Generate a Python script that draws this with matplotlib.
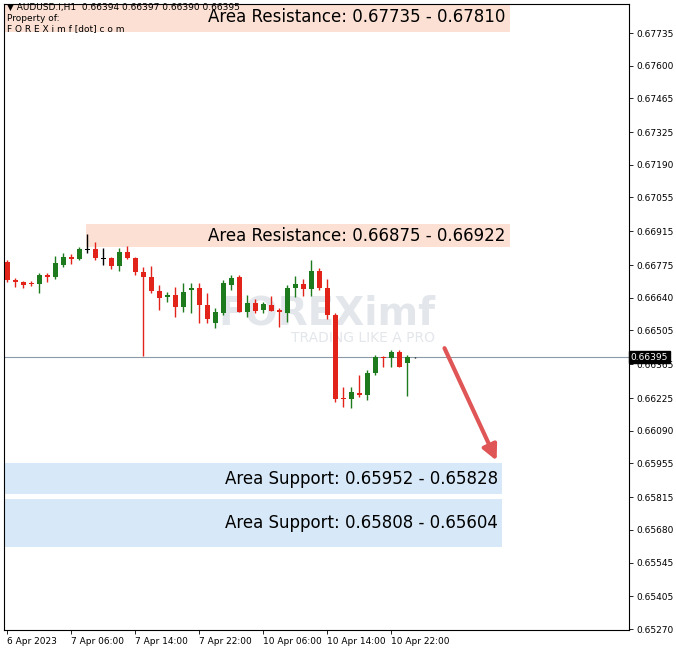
import matplotlib.pyplot as plt
from matplotlib.patches import Rectangle

# AUDUSD H1 candles
opens = [0.66789, 0.66714, 0.66704, 0.66700, 0.66696, 0.66734, 0.66725, 0.66776, 0.66810, 0.66799,
         0.66838, 0.66841, 0.66803, 0.66803, 0.66772, 0.66828, 0.66803, 0.66748, 0.66725, 0.66669,
         0.66642, 0.66652, 0.66603, 0.66672, 0.66679, 0.66610, 0.66537, 0.66576, 0.66693, 0.66727,
         0.66582, 0.66620, 0.66589, 0.66610, 0.66589, 0.66576, 0.66679, 0.66697, 0.66675, 0.66752,
         0.66679, 0.66569, 0.66224, 0.66220, 0.66247, 0.66237, 0.66327, 0.66396, 0.66389, 0.66417,
         0.66369, 0.66394]
highs = [0.66796, 0.66721, 0.66709, 0.66709, 0.66741, 0.66744, 0.66813, 0.66824, 0.66820, 0.66852,
         0.66904, 0.66872, 0.66845, 0.66807, 0.66845, 0.66854, 0.66807, 0.66769, 0.66772, 0.66693,
         0.66665, 0.66686, 0.66700, 0.66700, 0.66700, 0.66658, 0.66596, 0.66714, 0.66734, 0.66734,
         0.66652, 0.66634, 0.66624, 0.66647, 0.66596, 0.66693, 0.66730, 0.66716, 0.66796, 0.66762,
         0.66716, 0.66576, 0.66272, 0.66272, 0.66320, 0.66341, 0.66403, 0.66399, 0.66424, 0.66424,
         0.66403, 0.66397]
lows = [0.66707, 0.66686, 0.66679, 0.66690, 0.66658, 0.66707, 0.66716, 0.66769, 0.66778, 0.66796,
        0.66824, 0.66796, 0.66776, 0.66758, 0.66752, 0.66799, 0.66734, 0.66399, 0.66658, 0.66589,
        0.66624, 0.66562, 0.66582, 0.66576, 0.66534, 0.66534, 0.66513, 0.66569, 0.66672, 0.66582,
        0.66559, 0.66576, 0.66576, 0.66587, 0.66518, 0.66541, 0.66642, 0.66647, 0.66647, 0.66672,
        0.66551, 0.66210, 0.66189, 0.66186, 0.66231, 0.66217, 0.66320, 0.66355, 0.66355, 0.66355,
        0.66233, 0.66390]
closes = [0.66714, 0.66704, 0.66693, 0.66696, 0.66734, 0.66725, 0.66783, 0.66807, 0.66799, 0.66841,
          0.66841, 0.66803, 0.66801, 0.66772, 0.66828, 0.66803, 0.66748, 0.66725, 0.66669, 0.66638,
          0.66652, 0.66603, 0.66665, 0.66679, 0.66610, 0.66551, 0.66582, 0.66703, 0.66721, 0.66582,
          0.66617, 0.66587, 0.66614, 0.66587, 0.66582, 0.66679, 0.66697, 0.66675, 0.66752, 0.66679,
          0.66569, 0.66220, 0.66220, 0.66251, 0.66237, 0.66327, 0.66396, 0.66392, 0.66417, 0.66355,
          0.66396, 0.66395]

last_price = 0.66395
y_ticks = [0.67735, 0.67600, 0.67465, 0.67325, 0.67190, 0.67055, 0.66915, 0.66775, 0.66640,
           0.66505, 0.66365, 0.66225, 0.66090, 0.65955, 0.65815, 0.65680, 0.65545, 0.65405, 0.65270]
x_tick_pos = [0, 8, 16, 24, 32, 40, 48]
x_tick_labels = ['6 Apr 2023', '7 Apr 06:00', '7 Apr 14:00', '7 Apr 22:00',
                 '10 Apr 06:00', '10 Apr 14:00', '10 Apr 22:00']

# zones: (bottom, top, x_start, x_end, label, colour)
zones = [
    (0.67740, 0.67860, -0.3, 62.8, 'Area Resistance: 0.67735 - 0.67810', '#fbe0d3'),
    (0.66850, 0.66945, 9.9, 62.8, 'Area Resistance: 0.66875 - 0.66922', '#fbe0d3'),
    (0.65828, 0.65957, -0.3, 61.8, 'Area Support: 0.65952 - 0.65828', '#d7e9f8'),
    (0.65609, 0.65808, -0.3, 61.8, 'Area Support: 0.65808 - 0.65604', '#d7e9f8'),
]

fig = plt.figure(figsize=(6.76, 6.53), dpi=100)
ax = fig.add_axes([4 / 676, 23 / 653, 625 / 676, 626 / 653])
ax.set_xlim(-0.4, 77.7)
ax.set_ylim(0.65266, 0.67855)

for lo, hi, x0, x1, txt, col in zones:
    ax.add_patch(Rectangle((x0, lo), x1 - x0, hi - lo, color=col, lw=0, zorder=1))
    ax.text(x1 - 0.5, (lo + hi) / 2, txt, ha='right', va='center', fontsize=12, zorder=5)

# watermark
ax.text(40, 0.66575, 'FOREXimf', fontsize=28, fontweight='bold', color='#ccd2da',
        ha='center', va='center', alpha=0.55, zorder=2)
ax.text(44.5, 0.66472, 'TRADING LIKE A PRO', fontsize=10, color='#ccd2da',
        ha='center', va='center', alpha=0.55, zorder=2)

ax.axhline(last_price, color='#8c9aa8', lw=0.8, zorder=2)

for i, (o, h, l, c) in enumerate(zip(opens, highs, lows, closes)):
    if abs(c - o) < 0.00003:
        col = 'black'
    elif c > o:
        col = '#1d7a1d'
    else:
        col = '#e2231a'
    ax.vlines(i, l, h, color=col, lw=1, zorder=3)
    ax.add_patch(Rectangle((i - 0.32, min(o, c)), 0.64, max(abs(c - o), 0.000015),
                           color=col, lw=0, zorder=4))

ax.annotate('', xy=(61.3, 0.65956), xytext=(54.5, 0.66442),
            arrowprops=dict(arrowstyle='-|>,head_length=0.9,head_width=0.45',
                            color='#e05555', lw=3), zorder=6)

ax.text(0.0, 0.67840, '▼ AUDUSD.i,H1  0.66394 0.66397 0.66390 0.66395', fontsize=6.5, va='center')
ax.text(0.0, 0.67793, 'Property of:', fontsize=6.5, va='center')
ax.text(0.0, 0.67755, 'F O R E X i m f [dot] c o m', fontsize=6.5, va='center')

ax.yaxis.tick_right()
ax.set_yticks(y_ticks)
ax.set_yticklabels([f'{v:.5f}' for v in y_ticks], fontsize=6.5)
ax.set_xticks(x_tick_pos)
ax.set_xticklabels(x_tick_labels, fontsize=6.5, ha='left')
ax.tick_params(length=3, width=0.6, pad=2)
for s in ax.spines.values():
    s.set_linewidth(0.8)

ax.text(1.003, last_price, f'{last_price:.5f}', transform=ax.get_yaxis_transform(),
        fontsize=6.5, color='white', va='center', ha='left',
        bbox=dict(boxstyle='square,pad=0.2', fc='black', ec='black'), clip_on=False)

fig.savefig('out.png', dpi=100)
